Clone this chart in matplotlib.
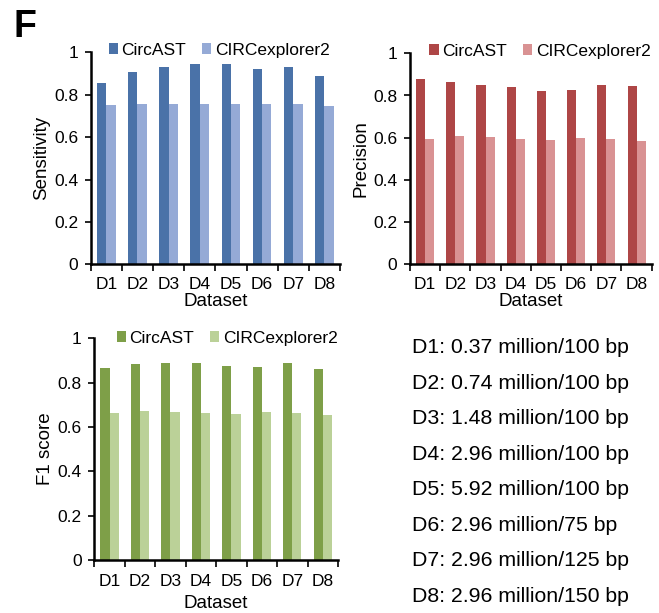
import matplotlib
matplotlib.use("Agg")
import matplotlib.pyplot as plt
import numpy as np

plt.rcParams['font.family'] = ['Liberation Sans', 'DejaVu Sans']

datasets = ["D1", "D2", "D3", "D4", "D5", "D6", "D7", "D8"]
series_names = ["CircAST", "CIRCexplorer2"]

sens_circast = [0.857, 0.907, 0.929, 0.943, 0.946, 0.923, 0.929, 0.888]
sens_circexp = [0.750, 0.755, 0.755, 0.756, 0.756, 0.756, 0.755, 0.747]

prec_circast = [0.877, 0.865, 0.850, 0.839, 0.821, 0.826, 0.848, 0.844]
prec_circexp = [0.595, 0.607, 0.602, 0.595, 0.588, 0.599, 0.595, 0.584]

f1_circast = [0.868, 0.884, 0.890, 0.887, 0.877, 0.871, 0.887, 0.863]
f1_circexp = [0.662, 0.671, 0.668, 0.665, 0.660, 0.668, 0.665, 0.656]

descriptions = [
    "D1: 0.37 million/100 bp",
    "D2: 0.74 million/100 bp",
    "D3: 1.48 million/100 bp",
    "D4: 2.96 million/100 bp",
    "D5: 5.92 million/100 bp",
    "D6: 2.96 million/75 bp",
    "D7: 2.96 million/125 bp",
    "D8: 2.96 million/150 bp",
]

W, H = 659, 613
fig = plt.figure(figsize=(W / 100, H / 100), dpi=100)


def px_axes(left, top, right, bottom):
    return fig.add_axes([left / W, 1 - bottom / H, (right - left) / W, (bottom - top) / H])


def panel(ax, a, b, colors, ylabel, leg_x, leg_y, xpad, xlabelpad):
    x = np.arange(1, len(datasets) + 1)
    bw = 0.3
    ax.bar(x - bw / 2, a, bw, color=colors[0], label=series_names[0])
    ax.bar(x + bw / 2, b, bw, color=colors[1], label=series_names[1])
    ax.set_xlim(0.5, len(datasets) + 0.5)
    ax.set_ylim(0, 1)
    ax.set_yticks([0, 0.2, 0.4, 0.6, 0.8, 1.0])
    ax.set_yticklabels(["0", "0.2", "0.4", "0.6", "0.8", "1"])
    ax.set_xticks(x)
    ax.set_xticklabels(datasets)
    ax.set_xticks(np.arange(0.5, len(datasets) + 1, 1), minor=True)
    ax.tick_params(axis='x', which='major', length=0, labelsize=12.5, pad=xpad)
    ax.tick_params(axis='x', which='minor', length=5, width=1.2, direction='out')
    ax.tick_params(axis='y', length=4, width=1.2, direction='out', labelsize=12.5, pad=5)
    for s in ['top', 'right']:
        ax.spines[s].set_visible(False)
    for s in ['left', 'bottom']:
        ax.spines[s].set_linewidth(1.8)
        ax.spines[s].set_color('black')
    ax.set_ylabel(ylabel, fontsize=13.5, labelpad=3)
    ax.set_xlabel("Dataset", fontsize=13.5, labelpad=xlabelpad)
    ax.legend(loc='center', bbox_to_anchor=(leg_x, leg_y), ncol=2, frameon=False,
              fontsize=12.5, handlelength=0.55, handleheight=0.6, handletextpad=0.2,
              columnspacing=0.9, borderpad=0.1)


ax1 = px_axes(90.7, 52.3, 340, 264.3)
panel(ax1, sens_circast, sens_circexp, ["#4A72A8", "#95AAD6"], "Sensitivity", 0.515, 1.01, 8.9, 1.2)

ax2 = px_axes(410, 53.3, 651.7, 264.3)
panel(ax2, prec_circast, prec_circexp, ["#AE4646", "#D99293"], "Precision", 0.538, 1.01, 8.9, 1.2)

ax3 = px_axes(94.3, 338.3, 338, 560)
panel(ax3, f1_circast, f1_circexp, ["#7E9F48", "#BBD198"], "F1 score", 0.545, 1.0, 10.3, 4.0)

fig.text(13 / W, 1 - 37 / H, "F", fontsize=27, fontweight='bold', ha='left', va='baseline')

y0 = 353.3
step = (601.7 - 353.3) / 7
for i, d in enumerate(descriptions):
    fig.text(411.7 / W, 1 - (y0 + i * step) / H, d, fontsize=15.3, ha='left', va='baseline')

fig.savefig("out.png", dpi=100)
